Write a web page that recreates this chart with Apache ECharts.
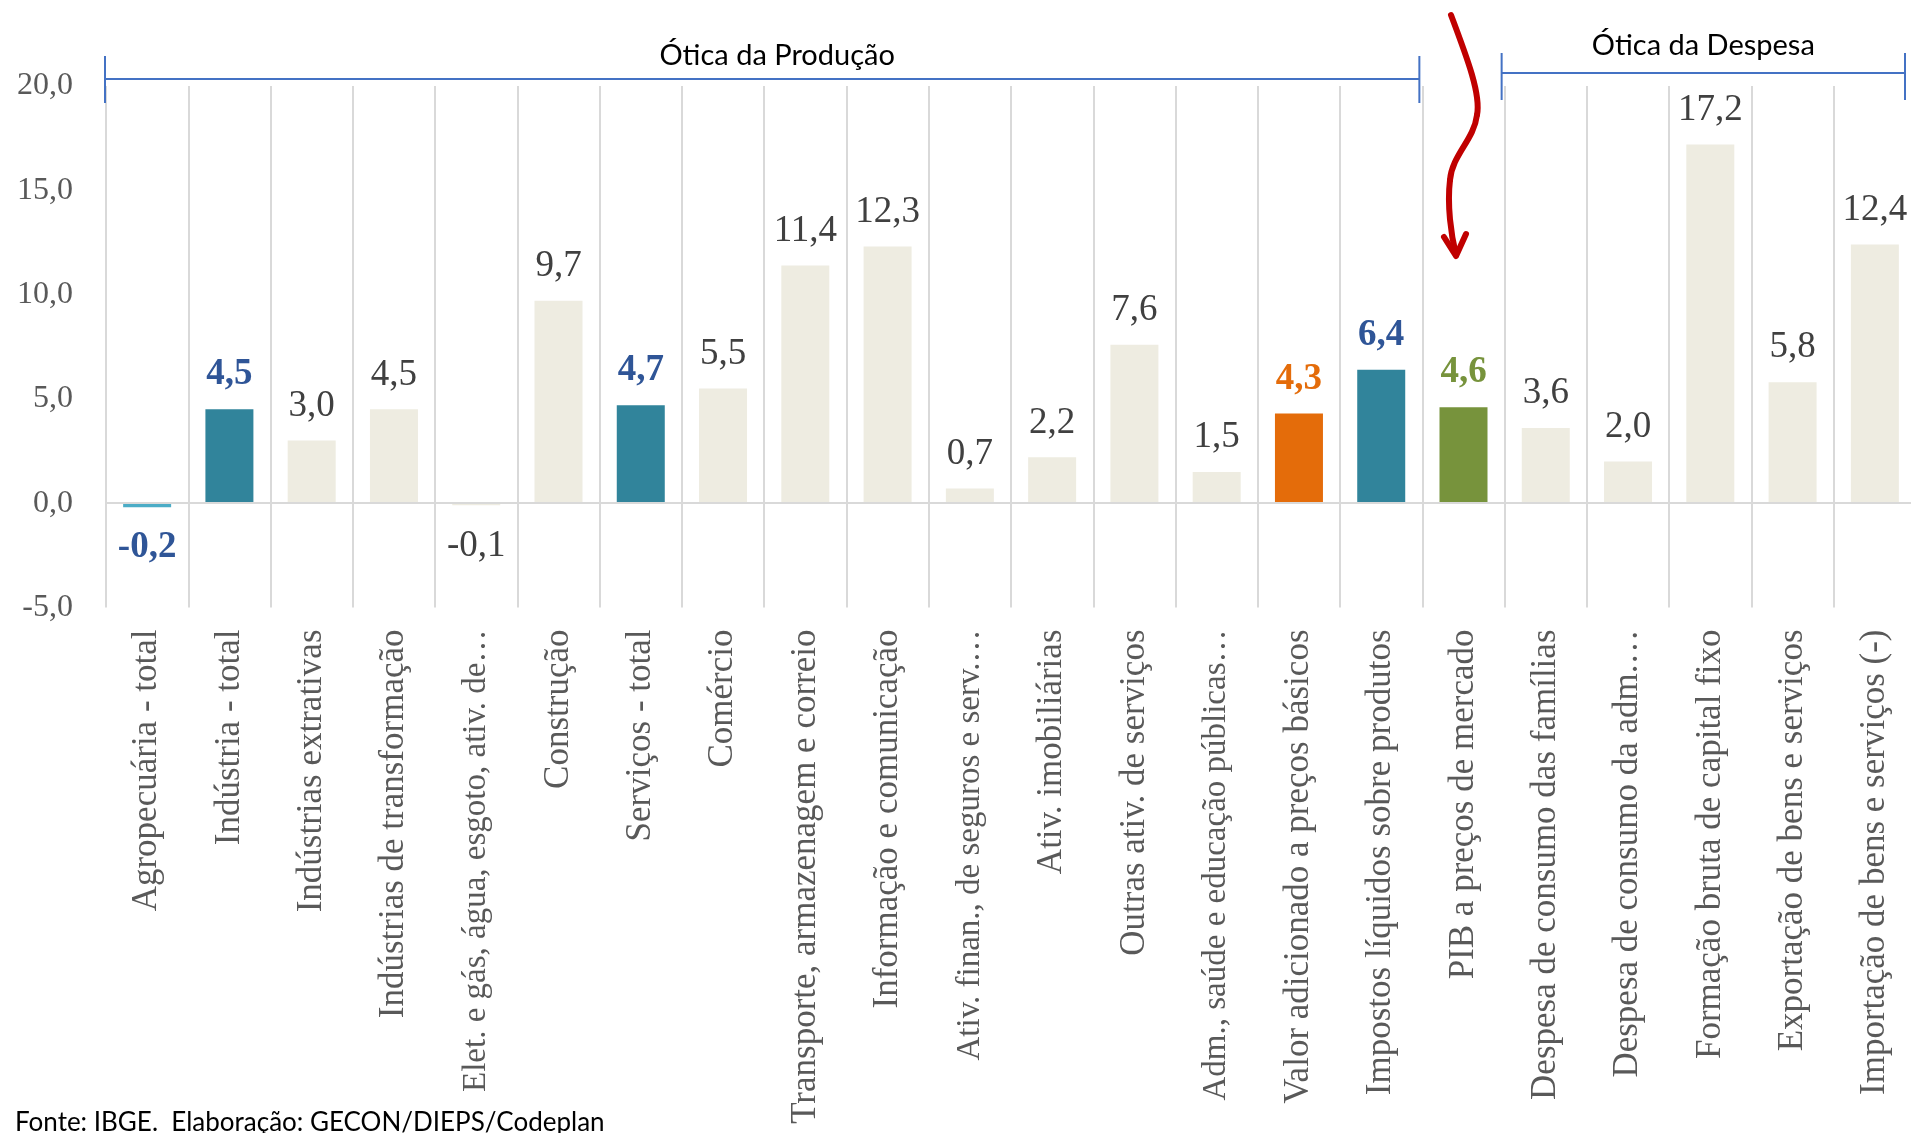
<!DOCTYPE html>
<html>
<head>
<meta charset="utf-8">
<title>PIB - variação em volume</title>
<script src="https://cdn.jsdelivr.net/npm/echarts@6/dist/echarts.min.js"></script>
<style>
html,body{margin:0;padding:0;background:#fff;}
#main{width:1911px;height:1133px;}
</style>
</head>
<body>
<div id="main"></div>
<script>
// categorias do eixo x
const categorias = [
    'Agropecuária - total',
    'Indústria - total',
    'Indústrias extrativas',
    'Indústrias de transformação',
    'Elet. e gás, água, esgoto, ativ. de…',
    'Construção',
    'Serviços - total',
    'Comércio',
    'Transporte, armazenagem e correio',
    'Informação e comunicação',
    'Ativ. finan., de seguros e serv.…',
    'Ativ. imobiliárias',
    'Outras ativ. de serviços',
    'Adm., saúde e educação públicas…',
    'Valor adicionado a preços básicos',
    'Impostos líquidos sobre produtos',
    'PIB a preços de mercado',
    'Despesa de consumo das famílias',
    'Despesa de consumo da adm.…',
    'Formação bruta de capital fixo',
    'Exportação de bens e serviços',
    'Importação de bens e serviços (-)'
];
// variação (%)
const valores = [-0.2, 4.5, 3.0, 4.5, -0.1, 9.7, 4.7, 5.5, 11.4, 12.3, 0.7, 2.2, 7.6, 1.5, 4.3, 6.4, 4.6, 3.6, 2.0, 17.2, 5.8, 12.4];
// eixo y
const yMin = -5;
const yMax = 20;
const yPasso = 5;
// chaves "Ótica da ..." (índices das categorias)
const oticas = [
    { nome: 'Ótica da Produção', de: 0, ate: 15 },
    { nome: 'Ótica da Despesa', de: 17, ate: 21 }
];
// barras em destaque
const destaque = { 0: 'agro', 1: 'total', 6: 'total', 14: 'va', 15: 'total', 16: 'pib' };

const estilos = {
    agro:   { bar: '#4BACC6', label: '#2F5597', bold: true },
    total:  { bar: '#31849B', label: '#2F5597', bold: true },
    va:     { bar: '#E46C0A', label: '#E46C0A', bold: true },
    pib:    { bar: '#77933C', label: '#77933C', bold: true },
    normal: { bar: '#EEECE1', label: '#404040', bold: false }
};
const fmt = v => v.toFixed(1).replace('.', ',');
const serif = '"Liberation Serif", "DejaVu Serif", serif';

let myChart = echarts.init(document.getElementById('main'));

const options = {
    animation: false,
    grid: {
        left: 106,
        top: 86,
        width: 1810,
        height: 521.5,
        containLabel: false,
        outerBoundsMode: 'none'
    },
    xAxis: {
        type: 'category',
        data: categorias,
        axisTick: { show: false },
        axisLine: { show: false, onZero: false },
        splitLine: {
            show: true,
            lineStyle: { color: '#D9D9D9', width: 2 }
        },
        axisLabel: {
            interval: 0,
            rotate: 90,
            margin: 22,
            fontSize: 35,
            fontFamily: serif,
            color: '#595959',
            // rótulos cortados (com vírgulas) ficam um pouco mais compactos
            formatter: t => (/,.*…$/.test(t) ? '{c|' + t + '}' : t),
            rich: {
                c: { fontSize: 33, fontFamily: serif, color: '#595959' }
            }
        }
    },
    yAxis: {
        type: 'value',
        min: yMin,
        max: yMax,
        interval: yPasso,
        axisLine: { show: false },
        axisTick: { show: false },
        splitLine: { show: false },
        axisLabel: {
            formatter: fmt,
            fontSize: 32,
            fontFamily: serif,
            color: '#595959',
            margin: 33
        }
    },
    series: [
        {
            type: 'bar',
            barWidth: 48,
            data: valores.map((v, i) => {
                const e = estilos[destaque[i] || 'normal'];
                return {
                    value: v,
                    itemStyle: { color: e.bar },
                    label: {
                        position: v < 0 ? 'bottom' : 'top',
                        distance: v < 0 ? 22 : 16,
                        color: e.label,
                        fontWeight: e.bold ? 'bold' : 'normal'
                    }
                };
            }),
            label: {
                show: true,
                fontSize: 37,
                fontFamily: serif,
                formatter: p => fmt(p.value)
            },
            markLine: {
                silent: true,
                symbol: 'none',
                label: { show: false },
                lineStyle: { color: '#D9D9D9', width: 2, type: 'solid' },
                data: [{ yAxis: 0 }]
            }
        }
    ]
};
myChart.setOption(options);

// chaves e anotações, posicionadas a partir do eixo
const c0 = myChart.convertToPixel({ xAxisIndex: 0 }, 0);
const c1 = myChart.convertToPixel({ xAxisIndex: 0 }, 1);
const banda = c1 - c0;
const borda = i => c0 - banda / 2 + i * banda;
const azul = { stroke: '#4472C4', lineWidth: 2 };

function chave(xa, xb, y, t0, t1, nome, tx, ty) {
    return [
        { type: 'line', shape: { x1: xa, y1: y, x2: xb, y2: y }, style: azul },
        { type: 'line', shape: { x1: xa, y1: t0, x2: xa, y2: t1 }, style: azul },
        { type: 'line', shape: { x1: xb, y1: t0, x2: xb, y2: t1 }, style: azul },
        {
            type: 'text', x: tx, y: ty,
            style: {
                text: nome, fill: '#000', font: '29px Lato',
                align: 'center', verticalAlign: 'middle',
                textAlign: 'center', textVerticalAlign: 'middle'
            }
        }
    ];
}
const pa = borda(oticas[0].de) - 1, pb = borda(oticas[0].ate + 1) - 3;
const da = borda(oticas[1].de) - 3, db = Math.min(borda(oticas[1].ate + 1), 1911) - 6;

const seta = { stroke: '#C00000', lineWidth: 6, fill: null, lineCap: 'round', lineJoin: 'round' };

myChart.setOption({
    graphic: [].concat(
        chave(pa, pb, 79, 56, 103, oticas[0].nome, (pa + pb) / 2 + 15, 56),
        chave(da, db, 73, 53, 100, oticas[1].nome, (da + db) / 2, 46),
        [
            { type: 'bezierCurve', shape: { x1: 1451, y1: 15, cpx1: 1468, cpy1: 60, cpx2: 1481, cpy2: 95, x2: 1477, y2: 115 }, style: seta },
            { type: 'bezierCurve', shape: { x1: 1477, y1: 115, cpx1: 1474, cpy1: 140, cpx2: 1452, cpy2: 155, x2: 1450, y2: 180 }, style: seta },
            { type: 'bezierCurve', shape: { x1: 1450, y1: 180, cpx1: 1447, cpy1: 205, cpx2: 1451, cpy2: 235, x2: 1456, y2: 255 }, style: seta },
            { type: 'polyline', shape: { points: [[1444, 237], [1456, 256], [1466, 234]] }, style: seta },
            {
                type: 'text', x: 15, y: 1110,
                style: {
                    text: 'Fonte: IBGE.  Elaboração: GECON/DIEPS/Codeplan',
                    fill: '#000', font: '26px Lato',
                    align: 'left', verticalAlign: 'top',
                    textAlign: 'left', textVerticalAlign: 'top'
                }
            }
        ]
    )
});

window.addEventListener('resize', function () {
    myChart.resize();
});
</script>
</body>
</html>
